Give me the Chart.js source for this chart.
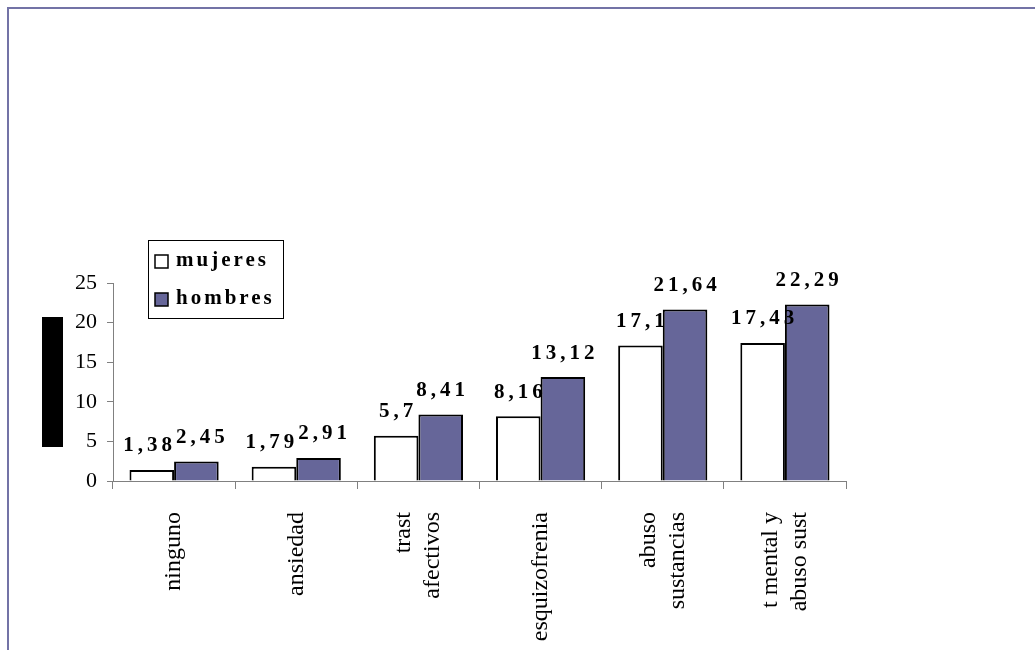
<!DOCTYPE html>
<html>
<head>
<meta charset="utf-8">
<script src="https://cdn.jsdelivr.net/npm/chart.js@4"></script>
<style>
  html, body { margin: 0; padding: 0; background: #fff; }
  #wrap { position: relative; width: 1035px; height: 650px; overflow: hidden; }
  #frame { position: absolute; left: 7px; top: 7px; right: -10px; bottom: -10px; border-left: 2px solid #7373a6; border-top: 2px solid #7373a6; }
  canvas { position: absolute; left: 0; top: 0; }
</style>
</head>
<body>
<div id="wrap">
  <div id="frame"></div>
  <canvas id="chart" width="1035" height="650"></canvas>
</div>
<script>
// Data
const categories = [
    "ninguno",
    "ansiedad",
    ["trast", "afectivos"],
    "esquizofrenia",
    ["abuso", "sustancias"],
    ["t mental y", "abuso sust"]
]
const mujeres = [1.38, 1.79, 5.7, 8.16, 17.1, 17.43]
const hombres = [2.45, 2.91, 8.41, 13.12, 21.64, 22.29]
const seriesNames = ["mujeres", "hombres"]
const yTicks = [0, 5, 10, 15, 20, 25]

const serif = "'Liberation Serif', 'DejaVu Serif', serif"

// Values written like the original: comma decimals
function formatValue(v) {
    return String(v).replace(".", ",")
}

// Labels above every bar, pushed apart when a pair would collide
const valueLabels = {
    id: "valueLabels",
    afterDatasetsDraw(chart) {
        const ctx = chart.ctx
        const spacing = 4
        ctx.save()
        ctx.font = "bold 21px " + serif
        ctx.fillStyle = "#000"
        ctx.letterSpacing = spacing + "px"
        ctx.textBaseline = "middle"
        ctx.textAlign = "left"

        const metaA = chart.getDatasetMeta(0)
        const metaB = chart.getDatasetMeta(1)
        chart.data.labels.forEach((_, j) => {
            const items = [0, 1].map(i => {
                const bar = chart.getDatasetMeta(i).data[j]
                const text = formatValue(chart.data.datasets[i].data[j])
                const w = ctx.measureText(text).width - spacing
                return { text, x: bar.x - w / 2, y: bar.y - 24, w }
            })
            const [a, b] = items
            const overlap = a.x + a.w + 4 - b.x
            if (overlap > 0 && Math.abs(a.y - b.y) < 20) {
                a.x -= overlap / 2
                b.x += overlap / 2
            }
            items.forEach(it => ctx.fillText(it.text, it.x, it.y))
        })
        ctx.restore()
    }
}

// Vertical category names, lines centred on the category
const categoryLabels = {
    id: "categoryLabels",
    afterDraw(chart) {
        const ctx = chart.ctx
        const xScale = chart.scales.x
        const lineHeight = 29
        ctx.save()
        ctx.font = "24px " + serif
        ctx.fillStyle = "#000"
        ctx.textAlign = "right"
        ctx.textBaseline = "middle"
        chart.data.labels.forEach((label, i) => {
            const lines = Array.isArray(label) ? label : [label]
            ctx.save()
            ctx.translate(xScale.getPixelForTick(i), xScale.top + 31)
            ctx.rotate(-Math.PI / 2)
            lines.forEach((line, k) => {
                ctx.fillText(line, 0, (k - (lines.length - 1) / 2) * lineHeight)
            })
            ctx.restore()
        })
        ctx.restore()
    }
}

// Boxed legend and the black block left of the axis
const decorations = {
    id: "decorations",
    afterDraw(chart) {
        const ctx = chart.ctx
        ctx.save()

        // black block
        ctx.fillStyle = "#000"
        ctx.fillRect(42, 317, 21, 130)

        // legend box
        ctx.fillStyle = "#fff"
        ctx.fillRect(148, 240, 135, 78)
        ctx.strokeStyle = "#000"
        ctx.lineWidth = 1
        ctx.strokeRect(148.5, 240.5, 135, 78)

        ctx.font = "bold 21px " + serif
        ctx.letterSpacing = "3px"
        ctx.textBaseline = "middle"
        ctx.textAlign = "left"
        chart.data.datasets.forEach((ds, i) => {
            const y = 261 + i * 38
            ctx.fillStyle = ds.backgroundColor
            ctx.fillRect(155, y - 6, 13, 13)
            ctx.strokeStyle = "#000"
            ctx.lineWidth = 1.5
            ctx.strokeRect(155, y - 6, 13, 13)
            ctx.fillStyle = "#000"
            ctx.fillText(ds.label, 176, y)
        })
        ctx.restore()
    }
}

new Chart(document.getElementById("chart"), {
    type: "bar",
    data: {
        labels: categories,
        datasets: [
            {
                label: seriesNames[0],
                data: mujeres,
                backgroundColor: "#ffffff",
                borderColor: "#000000",
                borderWidth: 2
            },
            {
                label: seriesNames[1],
                data: hombres,
                backgroundColor: "#666699",
                borderColor: "#000000",
                borderWidth: 2
            }
        ]
    },
    options: {
        responsive: false,
        animation: false,
        devicePixelRatio: 1,
        layout: {
            padding: { left: 53, top: 283, right: 189, bottom: 0 }
        },
        datasets: {
            bar: { categoryPercentage: 0.73, barPercentage: 1.0 }
        },
        plugins: {
            legend: { display: false },
            tooltip: { enabled: false }
        },
        scales: {
            x: {
                afterFit(scale) { scale.height = 169 },
                grid: {
                    offset: true,
                    drawOnChartArea: false,
                    drawTicks: true,
                    tickLength: 8,
                    color: "#808080"
                },
                border: { color: "#808080", width: 1 },
                ticks: { display: false }
            },
            y: {
                min: 0,
                max: 25,
                afterFit(scale) { scale.width = 60 },
                afterBuildTicks(scale) {
                    scale.ticks = yTicks.map(v => ({ value: v }))
                },
                grid: {
                    drawOnChartArea: false,
                    drawTicks: true,
                    tickLength: 6,
                    color: "#808080"
                },
                border: { color: "#808080", width: 1 },
                ticks: {
                    padding: 10,
                    color: "#000",
                    font: { family: serif, size: 22 }
                }
            }
        }
    },
    plugins: [valueLabels, categoryLabels, decorations]
})
</script>
</body>
</html>
